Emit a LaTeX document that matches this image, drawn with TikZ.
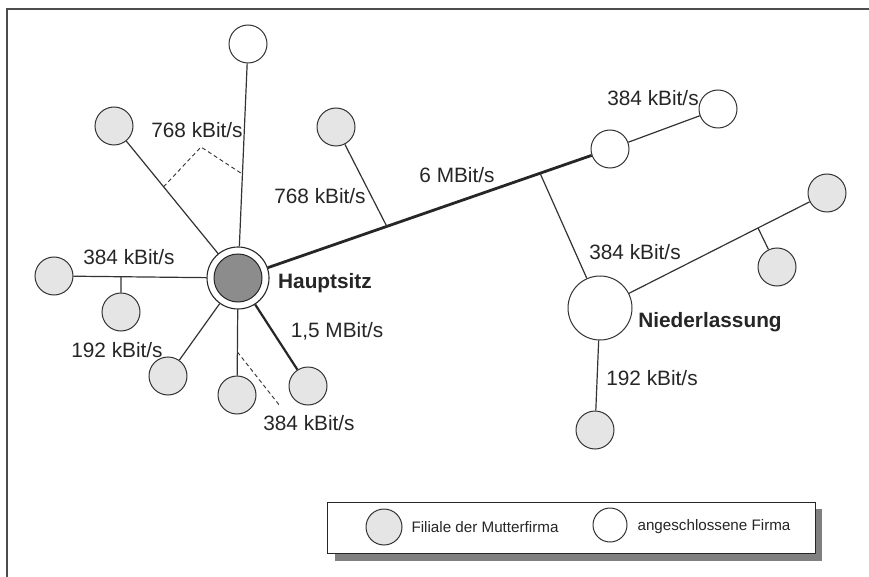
\documentclass[tikz,border=0pt]{standalone}
\usepackage{fontspec}
\setmainfont{Liberation Sans}
\usetikzlibrary{calc}
\begin{document}
\begin{tikzpicture}[x=1pt,y=-1pt,
  lbl/.style={font=\fontsize{20.8}{24}\selectfont, text=black!85, inner sep=0pt, anchor=center},
  blbl/.style={lbl, font=\fontsize{20.8}{24}\selectfont\bfseries},
  leg/.style={font=\fontsize{15.2}{18}\selectfont, text=black!85, inner sep=0pt, anchor=center},
  filiale/.style={circle, draw=black!80, line width=1pt, fill=black!10, minimum size=38pt, inner sep=0pt},
  firma/.style={circle, draw=black!80, line width=1pt, fill=white, minimum size=38pt, inner sep=0pt},
  link/.style={draw=black!80, line width=1.2pt},
  thicklink/.style={draw=black!85, line width=2.8pt},
  medlink/.style={draw=black!85, line width=2.2pt},
  dlink/.style={draw=black!80, line width=0.9pt, dash pattern=on 4pt off 3pt}]
\useasboundingbox (0,0) rectangle (869,577);
\fill[white] (0,0) rectangle (869,577);
% frame (top and left lines only)
\draw[black!70, line width=1.3pt] (7,577) -- (7,9) -- (869,9);

% nodes
\node[filiale] (tl) at (114,126) {};
\node[firma] (top) at (248,44) {};
\node[filiale] (tc) at (336,127) {};
\node[filiale] (lft) at (54,276) {};
\node[filiale] (lsub) at (121,312) {};
\node[filiale] (b1) at (168,376) {};
\node[filiale] (b2) at (237,395) {};
\node[filiale] (b3) at (308,386) {};
\node[circle, draw=black!85, line width=1.1pt, fill=white, minimum size=62pt, inner sep=0pt] (hub) at (238,278) {};
\node[circle, draw=black!85, line width=1pt, fill=black!45, minimum size=48pt, inner sep=0pt] (hubin) at (238,278) {};
\node[firma] (w1) at (610,149) {};
\node[firma] (w2) at (718,109) {};
\node[firma, minimum size=64pt] (nl) at (600,308) {};
\node[filiale] (r1) at (827,193) {};
\node[filiale] (r2) at (777,267) {};
\node[filiale] (r3) at (595,430) {};

% branch points
\coordinate (bl) at ($(lft)!0.364!(hub)$);
\coordinate (bt) at ($(hub)!0.40!(w1)$);
\coordinate (bn) at ($(hub)!0.812!(w1)$);
\coordinate (br) at ($(nl)!0.696!(r1)$);
\coordinate (dtl) at ($(tl)!0.40!(hub)$);
\coordinate (dtop) at ($(top)!0.556!(hub)$);
\coordinate (dapex) at (201,147);
\coordinate (db) at ($(hub)!0.632!(b2)$);
\coordinate (dend) at (280,406);

% connectors
\draw[link] (tl) -- (hub);
\draw[link] (top) -- (hub);
\draw[link] (lft) -- (hub);
\draw[link] (bl) -- (lsub);
\draw[link] (b1) -- (hub);
\draw[link] (b2) -- (hub);
\draw[medlink] (b3) -- (hub);
\draw[thicklink] (hub) -- (w1);
\draw[link] (tc) -- (bt);
\draw[link] (bn) -- (nl);
\draw[link] (w1) -- (w2);
\draw[link] (nl) -- (r1);
\draw[link] (br) -- (r2);
\draw[link] (nl) -- (r3);
\draw[dlink] (dtl) -- (dapex) -- (dtop);
\draw[dlink] (db) -- (dend);

% labels
\node[lbl] (l384a) at (129,257) {384 kBit/s};
\node[lbl] (l192a) at (117,350) {192 kBit/s};
\node[lbl] (l15) at (337,331) {1,5 MBit/s};
\node[lbl] (l384b) at (309,423) {384 kBit/s};
\node[blbl] (haupt) at (325,283) {Hauptsitz};
\node[lbl] (l768a) at (197,130) {768 kBit/s};
\node[lbl] (l768b) at (320,196) {768 kBit/s};
\node[lbl] (l6) at (457,175) {6 MBit/s};
\node[lbl] (l384c) at (653,98) {384 kBit/s};
\node[blbl] (nieder) at (710,322) {Niederlassung};
\node[lbl] (l384d) at (635,252) {384 kBit/s};
\node[lbl] (l192b) at (652,378) {192 kBit/s};

% legend
\fill[black!50] (335,509) rectangle (822,561);
\draw[black!85, line width=1pt, fill=white] (327,502) rectangle (815,553);
\node[filiale, minimum size=36pt] (lg1) at (384,527) {};
\node[leg] (lt1) at (485,527) {Filiale der Mutterfirma};
\node[firma, minimum size=34pt] (lg2) at (610,525) {};
\node[leg] (lt2) at (714,527) {angeschlossene Firma};
\end{tikzpicture}
\end{document}
